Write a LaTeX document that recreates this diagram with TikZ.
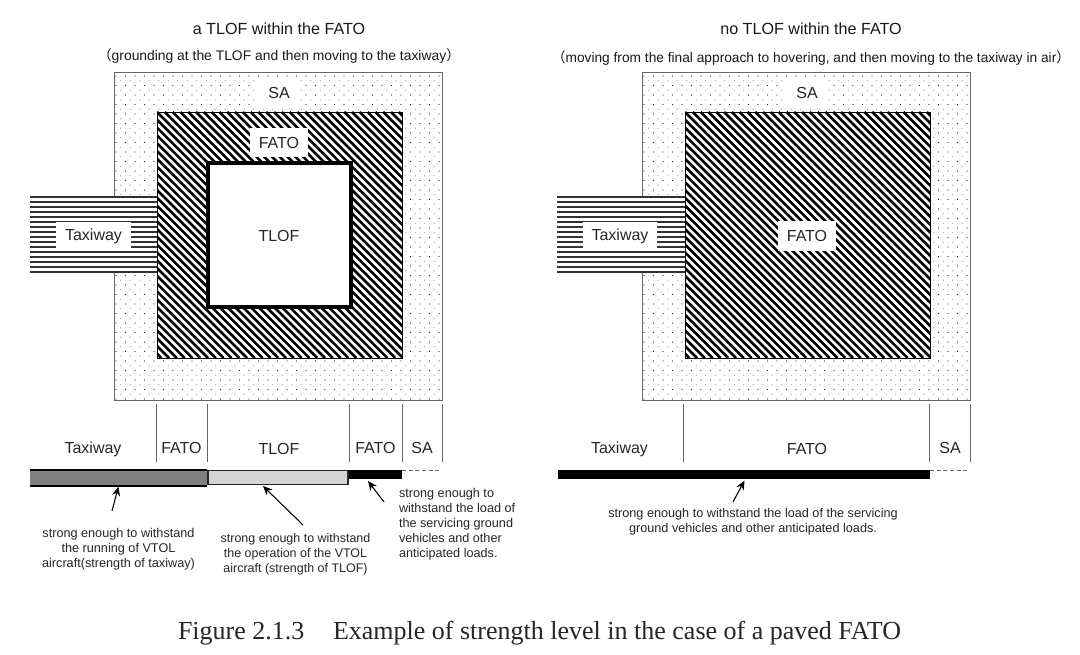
\documentclass[tikz,border=0pt]{standalone}
\usepackage{fontspec}
\setmainfont{Liberation Sans}
\newfontfamily\capfont{Liberation Serif}
\newfontfamily\cjkf{Noto Sans CJK JP}
\usetikzlibrary{arrows.meta}
\tikzset{
 every node/.style={inner sep=0pt,outer sep=0pt},
 lab/.style={font=\fontsize{12}{14}\selectfont,text=black!85},
 note/.style={font=\fontsize{9.5}{11.2}\selectfont,align=center,text=black!85},
 title/.style={font=\fontsize{12.1}{14}\selectfont,text=black!90},
 subtitle/.style={font=\fontsize{10.4}{13}\selectfont,text=black!90},
 mask/.style={lab,fill=white},
 tick/.style={draw=black!60,line width=0.6pt},
 arr/.style={-{Stealth[length=7pt,width=6pt]},line width=0.8pt,black},
 ground/.style={draw=black!60,line width=0.5pt,densely dashed},
}
\newcommand{\dotfield}[4]{% x0 y0 x1 y1
 \begin{scope}
 \clip (#1,#2) rectangle (#3,#4);
 \foreach \r in {0,...,70}{
  \pgfmathsetmacro{\yy}{#2+4+\r*4.75}
  \pgfmathsetmacro{\off}{mod(\r,2)*4.75}
  \pgfmathsetmacro{\shade}{85-mod(\r,2)*45}
  \foreach \c in {0,...,35}{
   \fill[black!\shade] ({#1+2+\off+\c*9.5},\yy) circle (0.55);
  }
 }
 \end{scope}}
\newcommand{\hatchfield}[4]{%
 \begin{scope}
 \clip (#1,#2) rectangle (#3,#4);
 \foreach \k in {-40,...,40}{
  \draw[black,line width=1.95pt,line cap=butt] ({#1+\k*7.8},#2) -- ({#1+\k*7.8+#4-#2},#4);
 }
 \end{scope}}
\newcommand{\taxifield}[3]{% x0 x1 y0
 \fill[white] (#1,#3) rectangle (#2,{#3+75});
 \foreach \k in {0,...,15}{
  \draw[black!80,line width=0.85pt] (#1,{#3+\k*5}) -- (#2,{#3+\k*5});
 }}
\begin{document}
\begin{tikzpicture}[x=0.75pt,y=-0.75pt]
\useasboundingbox (0,0) rectangle (1080,655);
\fill[white] (0,0) rectangle (1080,655);
% ---- left plan
\dotfield{114}{72}{442}{400}
\draw[black!60,line width=0.7pt] (114,197) -- (114,72) -- (442,72) -- (442,400) -- (114,400) -- (114,272);
\taxifield{30}{157}{197}
\fill[white] (157,112) rectangle (402,358);
\hatchfield{157}{112}{402}{358}
\draw[black,line width=0.6pt] (157,112) rectangle (402,358);
\node[draw=black,line width=3pt,fill=white,minimum width=107pt,minimum height=108pt] (tlofa) at (279.5,235) {};
\node[lab] (tloftext) at (279,236) {TLOF};
\node[mask,minimum width=43.5pt,minimum height=22pt] (fatoa) at (279,142.5) {FATO};
\node[mask,minimum width=31.5pt,minimum height=22pt] (saa) at (279,92.5) {SA};
\node[mask,minimum width=56pt,minimum height=22pt] (taxia) at (93.5,236.5) {Taxiway};
% ---- right plan
\dotfield{642}{72}{970}{400}
\draw[black!60,line width=0.7pt] (642,197) -- (642,72) -- (970,72) -- (970,400) -- (642,400) -- (642,272);
\taxifield{557}{685}{197}
\fill[white] (685,112) rectangle (930,358);
\hatchfield{685}{112}{930}{358}
\draw[black,line width=0.6pt] (685,112) rectangle (930,358);
\node[mask,minimum width=43.5pt,minimum height=22pt] (fatob) at (807,236) {FATO};
\node[mask,minimum width=31.5pt,minimum height=22pt] (sab) at (807,92.5) {SA};
\node[mask,minimum width=56pt,minimum height=22pt] (taxib) at (620,236.5) {Taxiway};
% ---- titles
\node[title] (t1) at (279,29) {a TLOF within the FATO};
\node[subtitle] (s1) at (279,56) {{\cjkf（}grounding at the TLOF and then moving to the taxiway{\cjkf）}};
\node[title] (t2) at (811,29) {no TLOF within the FATO};
\node[subtitle,font=\fontsize{10.3}{13}\selectfont] (s2) at (811,58) {{\cjkf（}moving from the final approach to hovering, and then moving to the taxiway in air{\cjkf）}};
% ---- left section
\foreach \x in {156.5,207.5,349,402,442.5} \draw[tick] (\x,404) -- (\x,462);
\node[lab] (la1) at (93,449.5) {Taxiway};
\node[lab] (la2) at (181.5,448) {FATO};
\node[lab] (la3) at (279,449) {TLOF};
\node[lab] (la4) at (375.5,448) {FATO};
\node[lab] (la5) at (422,448) {SA};
\draw[ground] (402,470) -- (442,470);
\fill[black!50] (30,470) rectangle (207,486);
\draw[black,line width=1pt] (30,486) -- (207,486);
\draw[black,line width=0.8pt] (30,470) -- (207,470);
\node[draw=black!85,line width=1.1pt,fill=black!17,minimum width=105pt,minimum height=10.5pt] (bar2) at (278,477.5) {};
\node[fill=black,minimum width=39.5pt,minimum height=7pt] (bar3) at (375.5,474.5) {};
\coordinate (a1s) at (112,511); \coordinate (a1e) at (118.5,486.5);
\coordinate (a2s) at (303,525); \coordinate (a2e) at (263,486);
\coordinate (a3s) at (384,502); \coordinate (a3e) at (368,481);
\draw[arr] (a1s) -- (a1e);
\draw[arr] (a2s) -- (a2e);
\draw[arr] (a3s) -- (a3e);
\node[note] (n1) at (118.5,549.5) {strong enough to withstand\\the running of VTOL\\aircraft(strength of taxiway)};
\node[note,font=\fontsize{9.35}{11.2}\selectfont] (n2) at (295.5,554.5) {strong enough to withstand\\the operation of the VTOL\\aircraft (strength of TLOF)};
\node[note,align=left,anchor=west] (n3) at (399,524) {strong enough to\\withstand the load of\\the servicing ground\\vehicles and other\\anticipated loads.};
% ---- right section
\foreach \x in {683.5,929.5,970} \draw[tick] (\x,404) -- (\x,462);
\node[lab] (lb1) at (619.5,449.5) {Taxiway};
\node[lab] (lb2) at (807,449) {FATO};
\node[lab] (lb3) at (950,448) {SA};
\draw[ground] (930,470) -- (970,470);
\node[fill=black,minimum width=279pt,minimum height=7pt] (bar4) at (744,474.5) {};
\coordinate (a4s) at (733,502); \coordinate (a4e) at (744.5,480.5);
\draw[arr] (a4s) -- (a4e);
\node[note] (n4) at (753,522) {strong enough to withstand the load of the servicing\\ground vehicles and other anticipated loads.};
% ---- caption
\node[font=\fontsize{19.5}{22}\selectfont\capfont,text=black!85] (cap) at (539.5,633) {Figure 2.1.3\hspace{1.1em}Example of strength level in the case of a paved FATO};
\end{tikzpicture}
\end{document}
